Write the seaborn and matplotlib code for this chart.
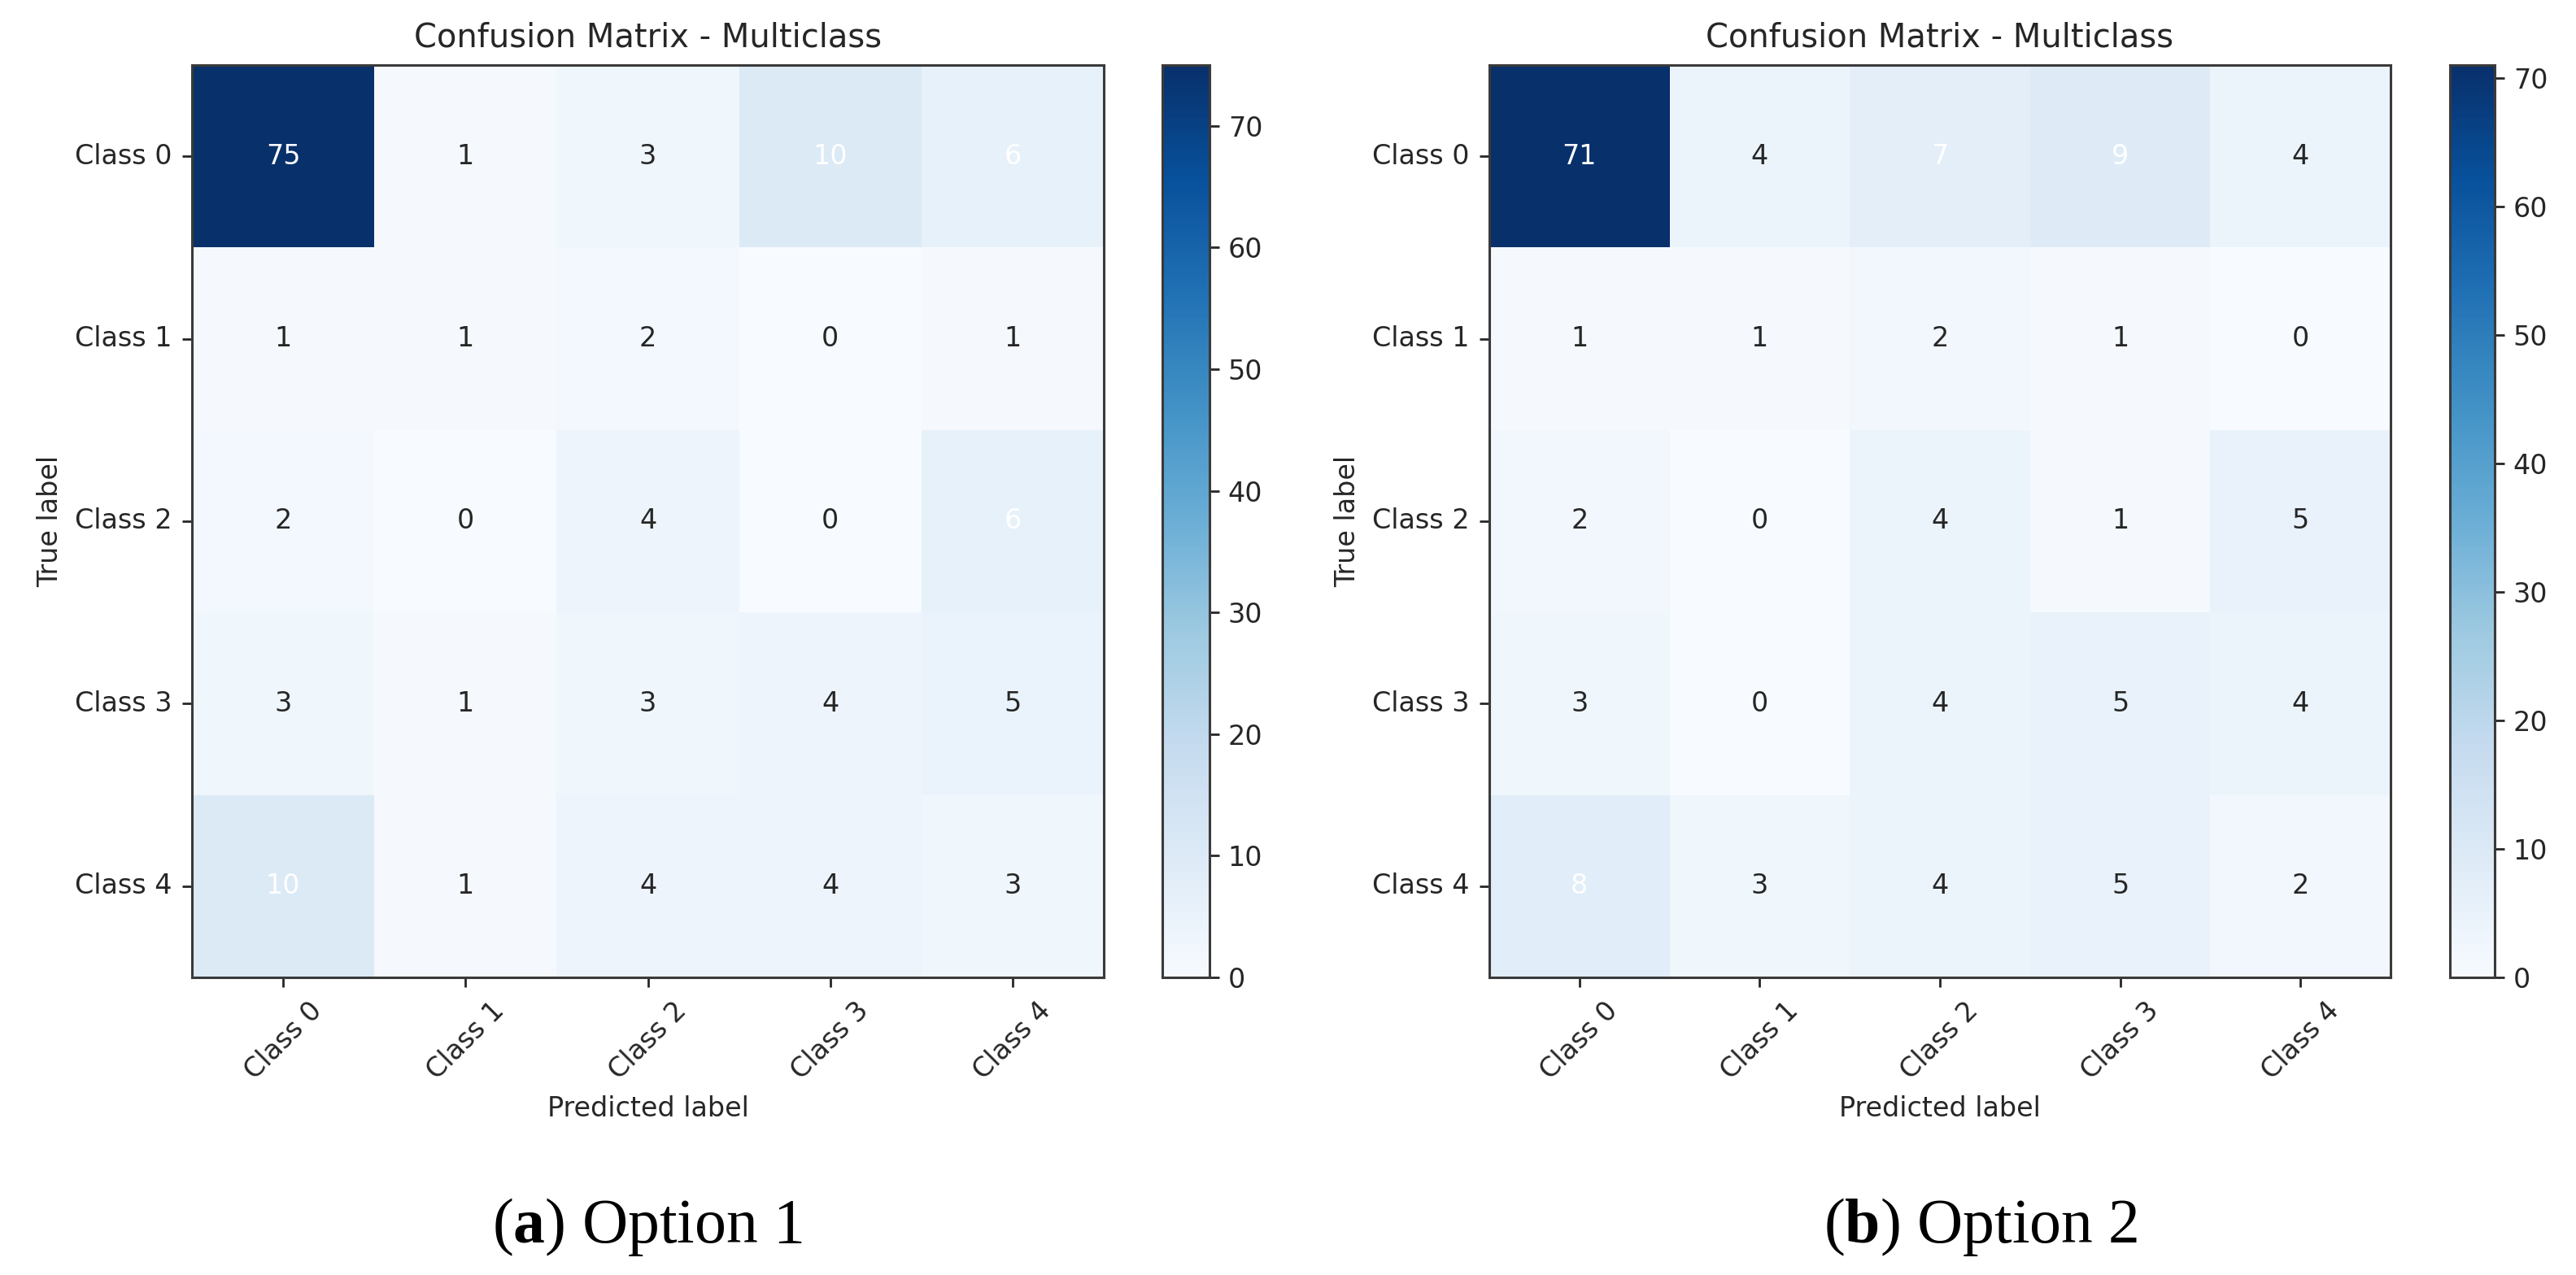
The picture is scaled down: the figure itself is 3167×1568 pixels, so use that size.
import numpy as np
import matplotlib
matplotlib.use("Agg")
import matplotlib.pyplot as plt
import seaborn as sns

# ---- data ----
class_labels = ["Class 0", "Class 1", "Class 2", "Class 3", "Class 4"]
cm_option1 = [
    [75, 1, 3, 10, 6],
    [1, 1, 2, 0, 1],
    [2, 0, 4, 0, 6],
    [3, 1, 3, 4, 5],
    [10, 1, 4, 4, 3],
]
cm_option2 = [
    [71, 4, 7, 9, 4],
    [1, 1, 2, 1, 0],
    [2, 0, 4, 1, 5],
    [3, 0, 4, 5, 4],
    [8, 3, 4, 5, 2],
]
panel_title = "Confusion Matrix - Multiclass"
captions = [r"($\mathbf{a}$) Option 1", r"($\mathbf{b}$) Option 2"]

plt.rcParams["mathtext.fontset"] = "custom"
plt.rcParams["mathtext.rm"] = "Liberation Serif"
plt.rcParams["mathtext.bf"] = "Liberation Serif:bold"

W, H = 3167, 1568
fig = plt.figure(figsize=(W / 100, H / 100), dpi=100)

def fx(px):
    return px / W

def fy_rect(top, bottom):
    return 1 - bottom / H, (bottom - top) / H

top, bottom = 80, 1202
yb, hh = fy_rect(top, bottom)

layouts = [
    dict(ax=(236, 1121), cax=(1429, 58), cap_x=796),
    dict(ax=(1831, 1108), cax=(3012, 55), cap_x=2435),
]

spine_color = "#3a3a3a"
text_color = "#262626"
for cm_list, lay, cap in zip([cm_option1, cm_option2], layouts, captions):
    cm = np.array(cm_list)
    ax = fig.add_axes([fx(lay["ax"][0]), yb, fx(lay["ax"][1]), hh])
    cax = fig.add_axes([fx(lay["cax"][0]), yb, fx(lay["cax"][1]), hh])
    sns.heatmap(cm, cmap="Blues", vmin=0, vmax=cm.max(), annot=False,
                ax=ax, cbar_ax=cax, xticklabels=class_labels,
                yticklabels=class_labels, linewidths=0)
    thresh = cm.mean()
    for i in range(cm.shape[0]):
        for j in range(cm.shape[1]):
            v = cm[i, j]
            ax.text(j + 0.5, i + 0.5, str(v), ha="center", va="center",
                    fontsize=24, color="white" if v >= thresh else text_color)
    for s in ax.spines.values():
        s.set_visible(True)
        s.set_linewidth(2.2)
        s.set_color(spine_color)
    cb = ax.collections[0].colorbar
    cb.outline.set_visible(True)
    cb.outline.set_linewidth(2.2)
    cb.outline.set_edgecolor(spine_color)
    cb.ax.tick_params(labelsize=24, length=8.4, width=2, pad=8,
                      colors=text_color)
    ax.tick_params(axis="both", labelsize=24, length=8.4, width=2, pad=9,
                   colors=text_color)
    ax.set_xticklabels(class_labels, rotation=45, ha="center")
    ax.set_yticklabels(class_labels, rotation=0)
    ax.set_title(panel_title, fontsize=28.8, pad=16, color=text_color)
    ax.set_xlabel("Predicted label", fontsize=24, labelpad=9, color=text_color)
    ax.set_ylabel("True label", fontsize=24, labelpad=10, color=text_color)
    fig.text(fx(lay["cap_x"]), 1 - 1528 / H, cap, ha="center", va="baseline",
             fontsize=56, family="Liberation Serif", color="black")

fig.savefig("out.png", dpi=100, facecolor="white")
